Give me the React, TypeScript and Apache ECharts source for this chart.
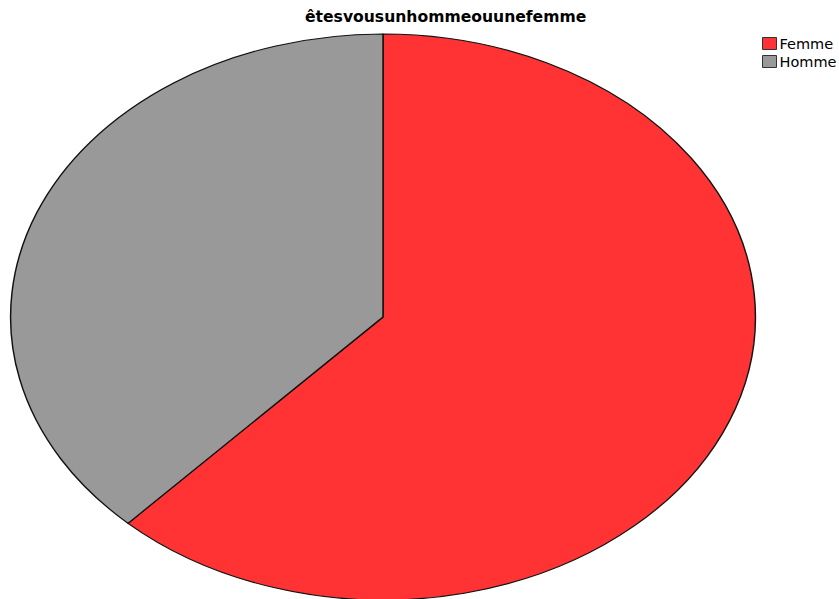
import React, { useEffect, useRef } from "react";
import * as echarts from "echarts";

const categories = ["Femme", "Homme"];
const values = [62, 38];
const colors = ["#FF3333", "#999999"];
const titleText = "êtesvousunhommeouunefemme";

export default function App() {
  const pieRef = useRef<HTMLDivElement>(null);
  const topRef = useRef<HTMLDivElement>(null);

  useEffect(() => {
    const data = categories.map((name, i) => ({
      name,
      value: values[i],
      itemStyle: { color: colors[i] },
    }));
    const pie = echarts.init(pieRef.current!, null, { renderer: "svg" });
    pie.setOption({
      animation: false,
      series: [
        {
          type: "pie",
          center: ["50%", "50%"],
          radius: 283,
          startAngle: 90,
          clockwise: true,
          label: { show: false },
          labelLine: { show: false },
          emphasis: { disabled: true },
          itemStyle: { borderColor: "#111", borderWidth: 1.1 },
          data,
        },
      ],
    });
    const top = echarts.init(topRef.current!, null, { renderer: "svg" });
    top.setOption({
      animation: false,
      title: {
        text: titleText,
        left: 305,
        top: 9,
        padding: 0,
        textStyle: {
          fontFamily: "DejaVu Sans",
          fontWeight: "bold",
          fontSize: 15.6,
          color: "#000",
        },
      },
      legend: {
        orient: "vertical",
        left: 762,
        top: 36,
        padding: 0,
        itemWidth: 14,
        itemHeight: 12,
        itemGap: 3,
        icon: "rect",
        selectedMode: false,
        itemStyle: { borderColor: "#333", borderWidth: 1 },
        textStyle: { fontFamily: "DejaVu Sans", fontSize: 14.5, color: "#000", padding: [0, 0, 0, -2] },
        data: categories,
      },
      series: [
        {
          type: "pie",
          center: [-1000, -1000],
          radius: 1,
          label: { show: false },
          silent: true,
          data,
        },
      ],
    });
    return () => {
      pie.dispose();
      top.dispose();
    };
  }, []);

  return (
    <div
      style={{
        position: "fixed",
        left: 0,
        top: 0,
        width: 839,
        height: 599,
        overflow: "hidden",
        background: "#fff",
      }}
    >
      <div
        ref={pieRef}
        style={{
          position: "absolute",
          left: 383 - 290,
          top: 317 - 290,
          width: 580,
          height: 580,
          transformOrigin: "50% 50%",
          transform: "scaleX(1.316)",
        }}
      />
      <div
        ref={topRef}
        style={{ position: "absolute", left: 0, top: 0, width: 839, height: 599 }}
      />
    </div>
  );
}
